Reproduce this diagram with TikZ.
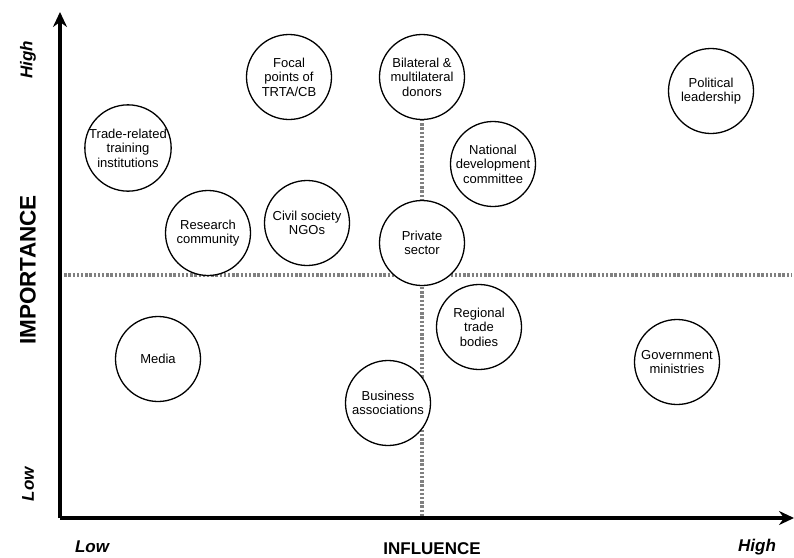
\documentclass[tikz,border=0pt]{standalone}
\usepackage{fontspec}
\setmainfont{Liberation Sans}
\usetikzlibrary{arrows.meta}
\begin{document}
\begin{tikzpicture}[x=1pt,y=-1pt,
    actor/.style={circle,draw,line width=1.3pt,fill=white,minimum size=85pt,inner sep=0pt,align=center,
      font=\fontsize{13}{14.5}\selectfont},
    axislabel/.style={font=\fontsize{17}{20}\selectfont\bfseries\itshape},
    axistitle/.style={font=\fontsize{17}{20}\selectfont\bfseries},
    quadrant/.style={black!50,line width=3.2pt,dash pattern=on 2.4pt off 1.8pt}]
  \useasboundingbox (0,0) rectangle (794,557);

  % Ejes
  \coordinate (O) at (60,518);
  \coordinate (ytop) at (60,12);
  \coordinate (xend) at (794,518);
  \coordinate (vtop) at (422,35);
  \coordinate (vbot) at (422,518);
  \coordinate (hleft) at (60,275);
  \coordinate (hright) at (792,275);

  \draw[quadrant] (vtop) -- (vbot);
  \draw[quadrant] (hleft) -- (hright);
  \draw[-{Stealth[length=15pt,width=14pt,inset=5pt]},line width=4.2pt] (O) -- (ytop);
  \draw[-{Stealth[length=15pt,width=14pt,inset=5pt]},line width=4.2pt] (O) -- (xend);

  \node[axislabel,rotate=90] (imphigh) at (28,60) {High};
  \node[axislabel,rotate=90] (implow) at (28,484) {Low};
  \node[axistitle,rotate=90,font=\fontsize{22.5}{26}\selectfont\bfseries] (imp) at (28,270) {IMPORTANCE};
  \node[axislabel] (inflow) at (92,547) {Low};
  \node[axistitle] (infl) at (432,549) {INFLUENCE};
  \node[axislabel] (infhigh) at (757,547) {High};

  % Actores
  \node[actor] (training) at (128,148) {Trade-related\\training\\institutions};
  \node[actor] (focal) at (289,77) {Focal\\points of\\TRTA/CB};
  \node[actor] (donors) at (422,77) {Bilateral \&\\multilateral\\donors};
  \node[actor] (natdev) at (493,164) {National\\development\\committee};
  \node[actor] (political) at (711,91) {Political\\leadership};
  \node[actor] (research) at (208,233) {Research\\community};
  \node[actor] (civil) at (307,223) {Civil society\\NGOs};
  \node[actor] (private) at (422,243) {Private\\sector};
  \node[actor] (regional) at (479,327) {Regional\\trade\\bodies};
  \node[actor] (media) at (158,359) {Media};
  \node[actor] (govt) at (677,362) {Government\\ministries};
  \node[actor] (business) at (388,403) {Business\\associations};
\end{tikzpicture}
\end{document}
